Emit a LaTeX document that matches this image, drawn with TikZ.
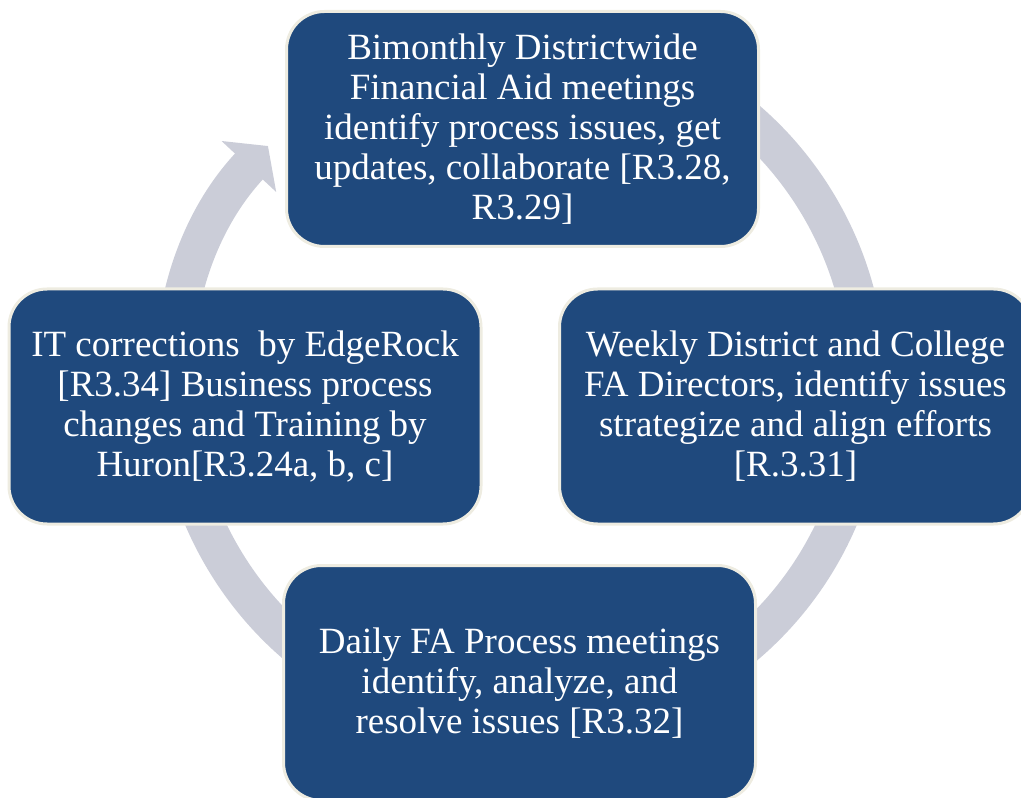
\documentclass[tikz,border=0pt]{standalone}
\usepackage{fontspec}
\setmainfont{Liberation Serif}
\usetikzlibrary{arrows.meta,calc}
\definecolor{boxblue}{RGB}{31,73,125}
\definecolor{boxrim}{RGB}{238,236,225}
\definecolor{ringgray}{RGB}{203,205,216}
\tikzset{
  cyclebox/.style={draw=boxrim, line width=2.25pt, fill=boxblue, rounded corners=28.5pt,
    minimum width=354pt, minimum height=176.25pt, inner sep=0pt, align=center,
    text=white, font=\fontsize{27.75}{30}\selectfont},
  ringarrow/.style={draw=ringgray, line width=28.5pt,
    -{Triangle[width=55pt, length=21pt]}}
}
\begin{document}
\begin{tikzpicture}[x=0.75pt, y=-0.75pt]
\useasboundingbox (0,0) rectangle (1021,798);
\clip (0,0) rectangle (1021,798);
\coordinate (ringc) at (521,382);
\draw[ringarrow] ($(ringc)+(-120:346)$) arc[start angle=-120, end angle=223, radius=346];
\node[cyclebox] (topbox) at (522.5,129) {Bimonthly Districtwide\\Financial Aid meetings\\identify process issues, get\\updates, collaborate [R3.28,\\R3.29]};
\node[cyclebox] (rightbox) at (795.5,406.5) {Weekly District and College\\FA Directors, identify issues\\strategize and align efforts\\{[}R.3.31{]}};
\node[cyclebox] (bottombox) at (519.5,683) {Daily FA Process meetings\\identify, analyze, and\\resolve issues [R3.32]};
\node[cyclebox] (leftbox) at (245,406.5) {IT corrections\ \ by EdgeRock\\{[}R3.34{]} Business process\\changes and Training by\\Huron[R3.24a, b, c]};
\end{tikzpicture}
\end{document}
